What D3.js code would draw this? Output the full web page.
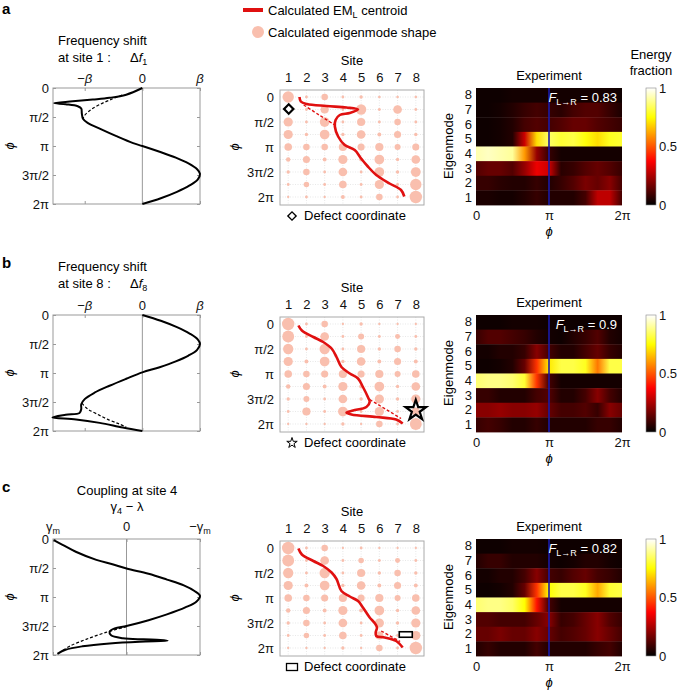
<!DOCTYPE html>
<html>
<head>
<meta charset="utf-8">
<script src="https://cdn.jsdelivr.net/npm/d3@7"></script>
<style>
body { margin: 0; background: #fff; }
svg { font-family: "Liberation Sans", Arial, Helvetica, sans-serif; }
</style>
</head>
<body>
<svg id="fig" width="677" height="690"></svg>
<script>
// ---- data ----
var sites = [1, 2, 3, 4, 5, 6, 7, 8];
var phiRows = [0, 0.25, 0.5, 0.75, 1, 1.25, 1.5, 1.75, 2];           // in units of pi
var phiTicks = [0, 0.5, 1, 1.5, 2];
var phiTickLabels = ["0", "π/2", "π", "3π/2", "2π"];
var eigenmodes = [8, 7, 6, 5, 4, 3, 2, 1];
var heatPhi = [0, 1/6, 1/3, 0.5, 2/3, 5/6, 1, 7/6, 4/3, 1.5, 5/3, 11/6, 2];
var fidelity = ["0.83", "0.9", "0.82"];

// eigenmode shape amplitude, rows = phiRows, cols = sites
var shapeA = [
  [0.9, 0.1, 0.45, 0.1, 0.15, 0.08, 0.08, 0.08],
  [0.3, 0.1, 0.6, 0.1, 0.8, 0.1, 0.65, 0.1],
  [0.7, 0.1, 0.75, 0.1, 0.6, 0.1, 0.45, 0.1],
  [0.7, 0.15, 0.75, 0.15, 0.65, 0.2, 0.5, 0.15],
  [0.55, 0.45, 0.45, 0.6, 0.5, 0.6, 0.4, 0.5],
  [0.25, 0.5, 0.2, 0.7, 0.2, 0.75, 0.15, 0.65],
  [0.15, 0.45, 0.1, 0.65, 0.1, 0.75, 0.15, 0.75],
  [0.1, 0.35, 0.1, 0.55, 0.1, 0.7, 0.1, 0.9],
  [0.05, 0.1, 0.05, 0.2, 0.1, 0.45, 0.1, 1.0]
];
var shapeB = [
  [1.0, 0.1, 0.45, 0.05, 0.15, 0.05, 0.05, 0.05],
  [0.95, 0.1, 0.65, 0.1, 0.4, 0.1, 0.3, 0.1],
  [0.8, 0.1, 0.8, 0.1, 0.6, 0.15, 0.45, 0.15],
  [0.7, 0.2, 0.75, 0.15, 0.65, 0.2, 0.5, 0.2],
  [0.55, 0.45, 0.5, 0.6, 0.5, 0.6, 0.4, 0.55],
  [0.25, 0.5, 0.2, 0.7, 0.2, 0.75, 0.15, 0.65],
  [0.15, 0.4, 0.1, 0.65, 0.15, 0.7, 0.15, 0.7],
  [0.1, 0.6, 0.1, 0.75, 0.1, 0.7, 0.1, 0.6],
  [0.05, 0.05, 0.05, 0.15, 0.05, 0.45, 0.1, 0.95]
];
var shapeC = [
  [1.0, 0.1, 0.45, 0.05, 0.1, 0.05, 0.05, 0.05],
  [0.95, 0.1, 0.65, 0.1, 0.35, 0.1, 0.3, 0.1],
  [0.8, 0.1, 0.8, 0.1, 0.6, 0.15, 0.45, 0.15],
  [0.7, 0.2, 0.75, 0.15, 0.65, 0.2, 0.5, 0.2],
  [0.55, 0.45, 0.5, 0.6, 0.5, 0.6, 0.4, 0.55],
  [0.25, 0.5, 0.2, 0.7, 0.2, 0.75, 0.15, 0.65],
  [0.15, 0.45, 0.1, 0.65, 0.1, 0.7, 0.15, 0.7],
  [0.1, 0.35, 0.1, 0.55, 0.1, 0.6, 0.1, 0.7],
  [0.05, 0.05, 0.05, 0.15, 0.05, 0.45, 0.1, 1.0]
];

// EM_L centroid [site, phi/pi]
var centroidA = [[1.62,0],[1.69,0.09],[2.02,0.14],[3.1,0.18],[4.2,0.21],[4.83,0.25],[4.38,0.32],[3.83,0.36],[3.6,0.46],[3.56,0.59],[3.74,0.79],[4.1,0.96],[4.65,1.06],[5.0,1.23],[5.37,1.39],[5.83,1.56],[6.56,1.73],[7.19,1.86],[7.37,1.99]];
var centroidADash = [[1.85,0.16],[2.7,0.36],[3.55,0.56]];
var centroidB = [[1.56,0.03],[1.75,0.13],[2.38,0.26],[2.92,0.36],[3.38,0.49],[3.65,0.66],[3.92,0.86],[4.38,0.99],[4.83,1.09],[5.1,1.26],[5.37,1.46],[5.47,1.56],[5.29,1.66],[4.56,1.73],[4.2,1.77],[4.47,1.81],[5.83,1.86],[6.92,1.91],[7.28,1.99]];
var centroidBDash = [[5.47,1.51],[7.19,1.89]];
var centroidC = [[1.56,0.01],[1.75,0.13],[2.38,0.26],[2.92,0.36],[3.38,0.49],[3.65,0.62],[3.92,0.86],[4.38,0.97],[4.83,1.06],[5.1,1.19],[5.47,1.39],[5.74,1.5],[5.87,1.59],[5.8,1.69],[5.83,1.76],[6.29,1.79],[6.92,1.86],[7.28,1.99]];
var centroidCDash = [[6.1,1.66],[7.14,1.87]];

// left curves [value, phi/pi]
var shiftA = [[0,0],[-0.28,0.115],[-0.57,0.17],[-0.86,0.2],[-1.21,0.23],[-1.53,0.26],[-1.33,0.28],[-1.12,0.315],[-1.06,0.355],[-1.05,0.44],[-1.03,0.53],[-0.95,0.6],[-0.74,0.7],[-0.45,0.83],[-0.16,0.95],[0,1.0],[0.3,1.1],[0.58,1.2],[0.8,1.3],[0.95,1.4],[1.0,1.48],[0.96,1.58],[0.82,1.68],[0.6,1.79],[0.32,1.9],[0,2.0]];
var shiftADash = [[-0.35,0.12],[-0.55,0.2],[-0.75,0.29],[-0.9,0.38],[-1.0,0.47],[-1.03,0.53]];
var shiftB = [[0,0],[0.32,0.1],[0.6,0.21],[0.82,0.32],[0.96,0.42],[1.0,0.5],[0.95,0.6],[0.8,0.7],[0.58,0.8],[0.3,0.9],[0,0.99],[-0.28,1.1],[-0.57,1.22],[-0.83,1.34],[-1.0,1.45],[-1.06,1.54],[-1.06,1.62],[-1.09,1.69],[-1.33,1.72],[-1.56,1.765],[-1.15,1.8],[-0.74,1.86],[-0.34,1.94],[0,2.0]];
var shiftBDash = [[-1.05,1.52],[-0.95,1.62],[-0.8,1.7],[-0.6,1.8],[-0.4,1.88],[-0.28,1.93]];
var couplingC = [[0.99,0.02],[0.87,0.1],[0.69,0.22],[0.41,0.36],[0.18,0.44],[0,0.51],[-0.3,0.6],[-0.55,0.7],[-0.78,0.8],[-0.93,0.9],[-1.0,0.98],[-0.95,1.08],[-0.8,1.18],[-0.55,1.3],[-0.3,1.4],[0,1.5],[0.16,1.54],[0.23,1.6],[0.21,1.66],[0.05,1.71],[-0.23,1.73],[-0.46,1.74],[-0.56,1.755],[-0.18,1.77],[0.23,1.8],[0.6,1.85],[0.83,1.91],[0.94,1.98]];
var couplingCDash = [[0,1.51],[0.28,1.61],[0.55,1.73],[0.76,1.84],[0.89,1.94]];

// experiment energy fraction, rows = eigenmodes 8..1, cols = heatPhi
var heatA = [
  [0.02,0.02,0.02,0.03,0.03,0.03,0.03,0.03,0.03,0.03,0.03,0.03,0.02],
  [0.02,0.02,0.03,0.05,0.08,0.1,0.08,0.06,0.1,0.12,0.12,0.08,0.04],
  [0.02,0.02,0.03,0.05,0.1,0.12,0.1,0.12,0.15,0.15,0.12,0.1,0.08],
  [0.02,0.02,0.03,0.05,0.3,0.7,0.85,0.8,0.82,0.76,0.7,0.78,0.8],
  [0.92,0.94,0.92,0.9,0.6,0.22,0.08,0.03,0.03,0.03,0.03,0.03,0.03],
  [0.12,0.15,0.15,0.12,0.22,0.35,0.3,0.06,0.08,0.12,0.15,0.12,0.08],
  [0.08,0.08,0.06,0.05,0.05,0.08,0.05,0.08,0.12,0.18,0.15,0.2,0.1],
  [0.04,0.04,0.03,0.03,0.05,0.08,0.05,0.05,0.05,0.1,0.28,0.28,0.1]
];
var heatB = [
  [0.02,0.02,0.02,0.03,0.03,0.03,0.02,0.02,0.02,0.02,0.02,0.02,0.02],
  [0.08,0.12,0.12,0.1,0.08,0.05,0.03,0.02,0.05,0.08,0.12,0.05,0.03],
  [0.03,0.03,0.05,0.05,0.08,0.2,0.1,0.05,0.05,0.1,0.15,0.08,0.05],
  [0.02,0.02,0.03,0.05,0.15,0.45,0.72,0.82,0.82,0.78,0.55,0.82,0.82],
  [0.86,0.88,0.88,0.86,0.8,0.45,0.1,0.03,0.03,0.03,0.03,0.03,0.03],
  [0.08,0.08,0.05,0.05,0.05,0.1,0.12,0.05,0.05,0.1,0.2,0.1,0.05],
  [0.2,0.2,0.22,0.2,0.2,0.22,0.15,0.1,0.1,0.12,0.08,0.2,0.15],
  [0.08,0.1,0.08,0.05,0.05,0.08,0.05,0.05,0.05,0.05,0.08,0.08,0.05]
];
var heatC = [
  [0.02,0.02,0.02,0.03,0.03,0.03,0.02,0.02,0.02,0.02,0.02,0.02,0.02],
  [0.05,0.08,0.08,0.05,0.05,0.05,0.03,0.02,0.03,0.05,0.05,0.03,0.02],
  [0.03,0.03,0.05,0.05,0.1,0.2,0.1,0.08,0.12,0.15,0.1,0.08,0.05],
  [0.02,0.02,0.03,0.05,0.15,0.45,0.75,0.82,0.82,0.78,0.62,0.8,0.82],
  [0.86,0.88,0.88,0.85,0.75,0.4,0.1,0.03,0.03,0.03,0.03,0.03,0.03],
  [0.12,0.12,0.1,0.1,0.1,0.15,0.2,0.08,0.1,0.15,0.2,0.12,0.08],
  [0.15,0.15,0.18,0.15,0.15,0.2,0.15,0.1,0.12,0.15,0.2,0.15,0.1],
  [0.05,0.08,0.05,0.05,0.05,0.1,0.05,0.05,0.05,0.05,0.08,0.1,0.05]
];

// ---- drawing ----
var svg = d3.select("#fig");
var defs = svg.append("defs");
var offsets = [0, 227, 451];
var RED = "#e01010", DOT = "#f9bfae";

function hot(v) {
    var r = Math.min(1, v / 0.375),
        g = Math.max(0, Math.min(1, (v - 0.375) / 0.375)),
        b = Math.max(0, Math.min(1, (v - 0.75) / 0.25));
    return d3.rgb(r * 255, g * 255, b * 255).formatHex();
}

// parts: [[text, style]] style: "" | "i" (italic) | "s" (subscript)
function rich(sel, parts) {
    var shifted = false;
    parts.forEach(function (p) {
        var t = sel.append("tspan").text(p[0]);
        var sub = p[1].indexOf("s") >= 0;
        if (p[1].indexOf("i") >= 0) t.attr("font-style", "italic");
        if (sub && !shifted) { t.attr("dy", 3).attr("font-size", 9); shifted = true; }
        else if (sub) t.attr("font-size", 9);
        else if (shifted) { t.attr("dy", -3); shifted = false; }
    });
    return sel;
}

function styleAxis(g) {
    g.select(".domain").remove();
    g.selectAll(".tick line").attr("stroke", "#999");
    g.selectAll(".tick text").attr("font-size", 13).attr("fill", "#111")
        .attr("font-family", "'Liberation Sans', Arial, sans-serif");
}

var leftCfg = [
    { dom: [-1.55, 1], ticks: [-1, 0, 1], ly: 83, labels: [[["−", ""], ["β", "i"]], [["0", ""]], [["β", "i"]]], solid: shiftA, dash: shiftADash },
    { dom: [-1.55, 1], ticks: [-1, 0, 1], ly: 83, labels: [[["−", ""], ["β", "i"]], [["0", ""]], [["β", "i"]]], solid: shiftB, dash: shiftBDash },
    { dom: [1, -1], ticks: [1, 0, -1], ly: 80, labels: [[["γ", ""], ["m", "s"]], [["0", ""]], [["−γ", ""], ["m", "s"]]], solid: couplingC, dash: couplingCDash }
];

function leftPlot(i) {
    var off = offsets[i], p = leftCfg[i];
    var g = svg.append("g");
    var x = d3.scaleLinear().domain(p.dom).range([53, 200]);
    var y = d3.scaleLinear().domain([0, 2]).range([88 + off, 204 + off]);

    g.append("line").attr("x1", x(0)).attr("x2", x(0)).attr("y1", y(0)).attr("y2", y(2))
        .attr("stroke", "#999").attr("stroke-width", 1);
    g.append("rect").attr("x", 53).attr("y", y(0)).attr("width", 147).attr("height", y(2) - y(0))
        .attr("fill", "none").attr("stroke", "#999");

    g.append("g").attr("transform", "translate(53,0)")
        .call(d3.axisLeft(y).tickValues(phiTicks).tickFormat(function (d, k) { return phiTickLabels[k]; })
            .tickSize(-3).tickPadding(4)).call(styleAxis);
    g.append("g").attr("transform", "translate(200,0)")
        .call(d3.axisRight(y).tickValues(phiTicks).tickFormat("").tickSize(-3)).call(styleAxis);
    g.append("g").attr("transform", "translate(0," + y(0) + ")")
        .call(d3.axisTop(x).tickValues(p.ticks).tickFormat("").tickSize(-3)).call(styleAxis);
    g.append("g").attr("transform", "translate(0," + y(2) + ")")
        .call(d3.axisBottom(x).tickValues(p.ticks).tickFormat("").tickSize(-3)).call(styleAxis);

    p.ticks.forEach(function (v, k) {
        rich(g.append("text").attr("x", x(v)).attr("y", p.ly + off).attr("text-anchor", "middle")
            .attr("font-size", 13).attr("fill", "#111"), p.labels[k]);
    });

    g.append("text").attr("transform", "translate(14," + (146 + off) + ") rotate(-90)")
        .attr("text-anchor", "middle").attr("font-size", 13).attr("font-style", "italic").text("ϕ");

    var line = d3.line().x(function (d) { return x(d[0]); }).y(function (d) { return y(d[1]); })
        .curve(d3.curveCatmullRom.alpha(0.5));
    g.append("path").attr("d", line(p.dash)).attr("fill", "none").attr("stroke", "#000")
        .attr("stroke-width", 1.2).attr("stroke-dasharray", "3,2");
    g.append("path").attr("d", line(p.solid)).attr("fill", "none").attr("stroke", "#000")
        .attr("stroke-width", 2);
}

var midCfg = [
    { shape: shapeA, c: centroidA, cd: centroidADash, marker: "diamond", mk: [1.03, 0.24] },
    { shape: shapeB, c: centroidB, cd: centroidBDash, marker: "star", mk: [8, 1.73] },
    { shape: shapeC, c: centroidC, cd: centroidCDash, marker: "rect", mk: [7.45, 1.73] }
];

function marker(g, type, cx, cy, big) {
    if (type === "diamond") {
        g.append("path").attr("d", d3.symbol(d3.symbolSquare, big ? 44 : 34)())
            .attr("transform", "translate(" + cx + "," + cy + ") rotate(45)")
            .attr("fill", "#fff").attr("stroke", "#000").attr("stroke-width", big ? 2.2 : 1.4);
    } else if (type === "star") {
        g.append("path").attr("d", d3.symbol(d3.symbolStar, big ? 130 : 34)())
            .attr("transform", "translate(" + cx + "," + cy + ")")
            .attr("fill", "none").attr("stroke", "#000").attr("stroke-width", big ? 2.2 : 1);
    } else {
        var w = big ? 13 : 11, h = big ? 5.5 : 7;
        g.append("rect").attr("x", cx - w / 2).attr("y", cy - h / 2).attr("width", w).attr("height", h)
            .attr("fill", "#fff").attr("stroke", "#000").attr("stroke-width", big ? 1.6 : 1.3);
    }
}

function midPlot(i) {
    var off = offsets[i], p = midCfg[i];
    var g = svg.append("g");
    var x = d3.scaleLinear().domain([0.55, 8.45]).range([280, 424]);
    var y = d3.scaleLinear().domain([-0.14, 2.16]).range([90 + off, 205 + off]);
    var r = d3.scaleLinear().domain([0, 1]).range([0.9, 6.2]);

    g.selectAll("line.gx").data(sites).enter().append("line")
        .attr("x1", x).attr("x2", x).attr("y1", y(-0.14)).attr("y2", y(2.16))
        .attr("stroke", "#d8d8d8").attr("stroke-width", 0.6).attr("stroke-dasharray", "1,1.5");
    g.selectAll("line.gy").data(phiRows).enter().append("line")
        .attr("x1", 280).attr("x2", 424).attr("y1", y).attr("y2", y)
        .attr("stroke", "#d8d8d8").attr("stroke-width", 0.6).attr("stroke-dasharray", "1,1.5");
    g.append("rect").attr("x", 280).attr("y", y(-0.14)).attr("width", 144).attr("height", y(2.16) - y(-0.14))
        .attr("fill", "none").attr("stroke", "#aaa");

    p.shape.forEach(function (row, ri) {
        g.selectAll(null).data(row).enter().append("circle")
            .attr("cx", function (d, ci) { return x(sites[ci]); })
            .attr("cy", y(phiRows[ri]))
            .attr("r", function (d) { return r(d); })
            .attr("fill", DOT);
    });

    g.append("g").attr("transform", "translate(0," + (85 + off) + ")")
        .call(d3.axisTop(x).tickValues(sites).tickSize(0).tickPadding(3)).call(styleAxis);
    g.append("g").attr("transform", "translate(280,0)")
        .call(d3.axisLeft(y).tickValues(phiTicks).tickFormat(function (d, k) { return phiTickLabels[k]; })
            .tickSize(0).tickPadding(6)).call(styleAxis);

    g.append("text").attr("x", 352).attr("y", 65 + off).attr("text-anchor", "middle")
        .attr("font-size", 13).text("Site");
    g.append("text").attr("transform", "translate(239," + (147 + off) + ") rotate(-90)")
        .attr("text-anchor", "middle").attr("font-size", 13).attr("font-style", "italic").text("ϕ");

    var line = d3.line().x(function (d) { return x(d[0]); }).y(function (d) { return y(d[1]); })
        .curve(d3.curveCatmullRom.alpha(0.5));
    g.append("path").attr("d", line(p.cd)).attr("fill", "none").attr("stroke", RED)
        .attr("stroke-width", 1.4).attr("stroke-dasharray", "3,2");
    g.append("path").attr("d", line(p.c)).attr("fill", "none").attr("stroke", RED)
        .attr("stroke-width", 2.6).attr("stroke-linejoin", "round");

    marker(g, p.marker, x(p.mk[0]), y(p.mk[1]), true);

    marker(g, p.marker, 292, 216 + off, false);
    g.append("text").attr("x", 304).attr("y", 220 + off).attr("font-size", 13).text("Defect coordinate");
}

var heatCfg = [heatA, heatB, heatC];

function heatPlot(i) {
    var off = offsets[i], data = heatCfg[i];
    var g = svg.append("g");
    var x = d3.scaleLinear().domain([0, 2]).range([476, 622]);
    var y = d3.scaleBand().domain(eigenmodes).range([88 + off, 205 + off]);

    data.forEach(function (row, ri) {
        var id = "hg" + i + "_" + ri;
        var grad = defs.append("linearGradient").attr("id", id)
            .attr("gradientUnits", "userSpaceOnUse")
            .attr("x1", x(0)).attr("x2", x(2)).attr("y1", 0).attr("y2", 0);
        grad.selectAll("stop").data(row).enter().append("stop")
            .attr("offset", function (d, k) { return heatPhi[k] / 2; })
            .attr("stop-color", function (d) { return hot(d); });
        g.append("rect").attr("x", x(0)).attr("y", y(eigenmodes[ri]))
            .attr("width", x(2) - x(0)).attr("height", y.bandwidth() + 0.4)
            .attr("fill", "url(#" + id + ")");
    });

    g.append("line").attr("x1", x(1)).attr("x2", x(1)).attr("y1", y.range()[0]).attr("y2", y.range()[1])
        .attr("stroke", "#1a1aa8").attr("stroke-width", 1.6);

    rich(g.append("text").attr("x", 617).attr("y", 102 + off).attr("text-anchor", "end")
        .attr("font-size", 13).attr("fill", "#fff"),
        [["F", "i"], ["L→R", "s"], [" = " + fidelity[i], ""]]);

    g.append("g").attr("transform", "translate(476,0)")
        .call(d3.axisLeft(y).tickSize(0).tickPadding(4)).call(styleAxis);
    g.append("g").attr("transform", "translate(0," + (205 + off) + ")")
        .call(d3.axisBottom(x).tickValues([0, 1, 2]).tickFormat(function (d) { return ["0", "π", "2π"][d]; })
            .tickSize(0).tickPadding(6)).call(styleAxis);

    g.append("text").attr("x", 549).attr("y", 80 + off).attr("text-anchor", "middle")
        .attr("font-size", 13).text("Experiment");
    g.append("text").attr("transform", "translate(453," + (146 + off) + ") rotate(-90)")
        .attr("text-anchor", "middle").attr("font-size", 13).text("Eigenmode");
    g.append("text").attr("x", 549).attr("y", 236 + off).attr("text-anchor", "middle")
        .attr("font-size", 13).attr("font-style", "italic").text("ϕ");

    // colour bar
    var cy = d3.scaleLinear().domain([0, 1]).range([205 + off, 88 + off]);
    var cid = "cb" + i;
    var cg = defs.append("linearGradient").attr("id", cid).attr("x1", 0).attr("x2", 0).attr("y1", 1).attr("y2", 0);
    cg.selectAll("stop").data(d3.range(0, 1.0001, 0.025)).enter().append("stop")
        .attr("offset", function (d) { return d; }).attr("stop-color", function (d) { return hot(d); });
    g.append("rect").attr("x", 646).attr("y", cy(1)).attr("width", 10).attr("height", cy(0) - cy(1))
        .attr("fill", "url(#" + cid + ")").attr("stroke", "#888").attr("stroke-width", 0.6);
    g.append("g").attr("transform", "translate(656,0)")
        .call(d3.axisRight(cy).tickValues([0, 0.5, 1]).tickFormat(function (d) { return d === 0.5 ? "0.5" : String(d); })
            .tickSize(0).tickPadding(3)).call(styleAxis);
}

// legend at the top
svg.append("line").attr("x1", 243).attr("x2", 263).attr("y1", 10).attr("y2", 10)
    .attr("stroke", RED).attr("stroke-width", 4);
rich(svg.append("text").attr("x", 268).attr("y", 15).attr("font-size", 13),
    [["Calculated EM", ""], ["L", "s"], [" centroid", ""]]);
svg.append("circle").attr("cx", 258).attr("cy", 32).attr("r", 6).attr("fill", DOT);
svg.append("text").attr("x", 268).attr("y", 37).attr("font-size", 13).text("Calculated eigenmode shape");

svg.append("text").attr("x", 651).attr("y", 59).attr("text-anchor", "middle").attr("font-size", 13).text("Energy");
svg.append("text").attr("x", 651).attr("y", 75).attr("text-anchor", "middle").attr("font-size", 13).text("fraction");

// panel letters and titles
[["a", 14], ["b", 268], ["c", 492]].forEach(function (d) {
    svg.append("text").attr("x", 2).attr("y", d[1]).attr("font-size", 15).attr("font-weight", "bold").text(d[0]);
});
[0, 1].forEach(function (i) {
    var off = offsets[i] - (i ? 1 : 0);
    svg.append("text").attr("x", 58).attr("y", 45 + off).attr("font-size", 13).text("Frequency shift");
    svg.append("text").attr("x", 58).attr("y", 62 + off).attr("font-size", 13).text("at site " + (i ? 8 : 1) + " :");
    rich(svg.append("text").attr("x", 130).attr("y", 62 + off).attr("font-size", 13),
        [["Δ", ""], ["f", "i"], [i ? "8" : "1", "s"]]);
});
svg.append("text").attr("x", 127).attr("y", 495).attr("text-anchor", "middle").attr("font-size", 13).text("Coupling at site 4");
rich(svg.append("text").attr("x", 127).attr("y", 511).attr("text-anchor", "middle").attr("font-size", 13),
    [["γ", ""], ["4", "s"], [" − λ", ""]]);

[0, 1, 2].forEach(function (i) {
    leftPlot(i);
    midPlot(i);
    heatPlot(i);
});
</script>
</body>
</html>
